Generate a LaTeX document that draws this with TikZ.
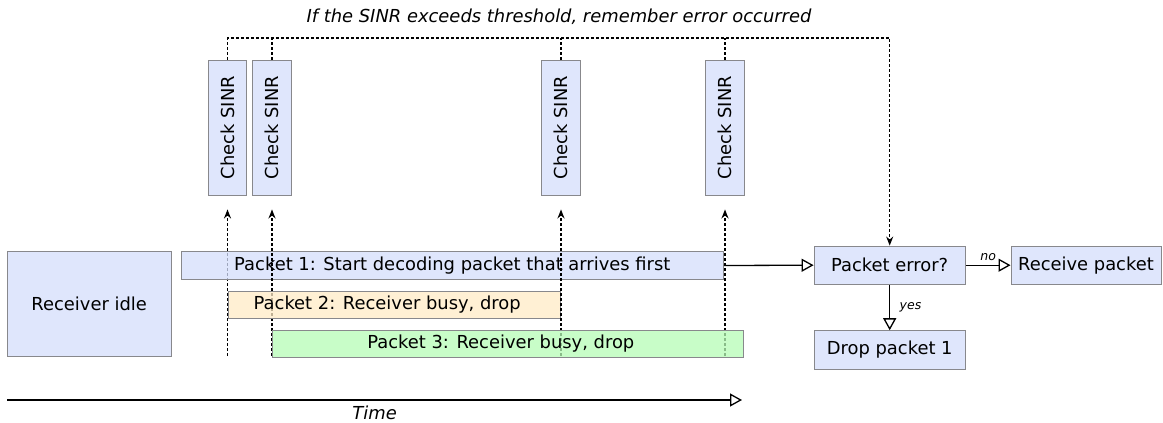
\documentclass[tikz,border=0pt]{standalone}
\usepackage{fontspec}
\setmainfont{DejaVu Sans}
\usetikzlibrary{arrows.meta}

\definecolor{boxblue}{RGB}{223,230,252}
\definecolor{pktblue}{RGB}{212,222,251}
\definecolor{pktorange}{RGB}{255,235,198}
\definecolor{pktgreen}{RGB}{182,252,182}
\definecolor{boxedge}{RGB}{136,136,140}

\tikzset{
  base/.style={draw=boxedge, line width=0.9pt, inner sep=0pt, font=\fontsize{17.9}{21}\selectfont},
  block/.style={base, fill=boxblue},
  packet/.style={base, fill opacity=0.75, text opacity=1},
  checkbox/.style={block, rotate=90, minimum width=135pt, minimum height=38.6pt},
  dotline/.style={line width=1.4pt, dash pattern=on 3pt off 2pt},
  dotarrow/.style={dotline, -{Stealth[length=9pt,width=7pt]}},
  flow/.style={line width=1.3pt, -{Triangle[open,length=12pt,width=13pt,line width=1.3pt]}},
  smalllabel/.style={font=\fontsize{12.5}{14}\selectfont\itshape},
}

\begin{document}
\begin{tikzpicture}[x=1pt,y=-1pt]
\useasboundingbox (0,0) rectangle (1163,423);

% title
\node[font=\fontsize{17.9}{21}\selectfont\itshape] (title) at (559,17)
  {If the SINR exceeds threshold, remember error occurred};

% SINR checks
\node[checkbox] (c1) at (227.5,127.5) {Check SINR};
\node[checkbox] (c2) at (272,127.5) {Check SINR};
\node[checkbox] (c3) at (561,127.5) {Check SINR};
\node[checkbox] (c4) at (725,127.5) {Check SINR};

% decision boxes
\node[block, minimum width=151.3pt, minimum height=38.3pt] (perr) at (889.7,265.2) {Packet error?};
\node[block, minimum width=150pt, minimum height=38.3pt] (recv) at (1086,265.2) {Receive packet};
\node[block, minimum width=151.3pt, minimum height=38.3pt] (drop) at (889.7,349.8) {Drop packet 1};

% receiver state
\node[block, minimum width=164.3pt, minimum height=105pt] (idle) at (89.2,304.2) {Receiver idle};

% time marks at the bottom of the packet area
\coordinate (b1) at (227.5,356);
\coordinate (b2) at (272,356);
\coordinate (b3) at (561,356);
\coordinate (b4) at (725,356);
\coordinate (top) at (0,38);

% packets and the SINR checks they trigger
\draw[dotarrow, shorten >=14pt] (b1) -- (c1.west);
\node[packet, fill=pktblue, minimum width=542pt, minimum height=27.6pt] (p1) at (452.3,265.5)
  {Packet 1: Start decoding packet that arrives first};
\draw[dotarrow, shorten >=14pt] (b2) -- (c2.west);
\node[packet, fill=pktorange, minimum width=332.3pt, minimum height=27.3pt] (p2) at (394.2,304.7)
  {Packet 2: Receiver busy, drop\hspace*{14pt}};
\draw[dotarrow, shorten >=14pt] (b3) -- (c3.west);
\draw[dotarrow, shorten >=14pt] (b4) -- (c4.west);
\node[packet, fill=pktgreen, minimum width=471pt, minimum height=27.7pt] (p3) at (507.8,343.8)
  {Packet 3: Receiver busy, drop\hspace*{14pt}};

% error memory path
\draw[dotarrow] (c1.east) |- (c1.east |- top) -| (perr.north);
\draw[dotline] (c2.east) -- (c2.east |- top);
\draw[dotline] (c3.east) -- (c3.east |- top);
\draw[dotline] (c4.east) -- (c4.east |- top);

% decision flow
\draw[flow] (p1.east) -- (perr.west);
\draw[flow] (perr.east) -- node[smalllabel, above=1pt] {no} (recv.west);
\draw[flow] (perr.south) -- node[smalllabel, right=6pt] {yes} (drop.north);

% time axis
\coordinate (t0) at (7.3,400);
\coordinate (t1) at (742,400);
\draw[flow] (t0) -- node[below=2pt, font=\fontsize{17.9}{21}\selectfont\itshape] {Time} (t1);
\end{tikzpicture}
\end{document}
